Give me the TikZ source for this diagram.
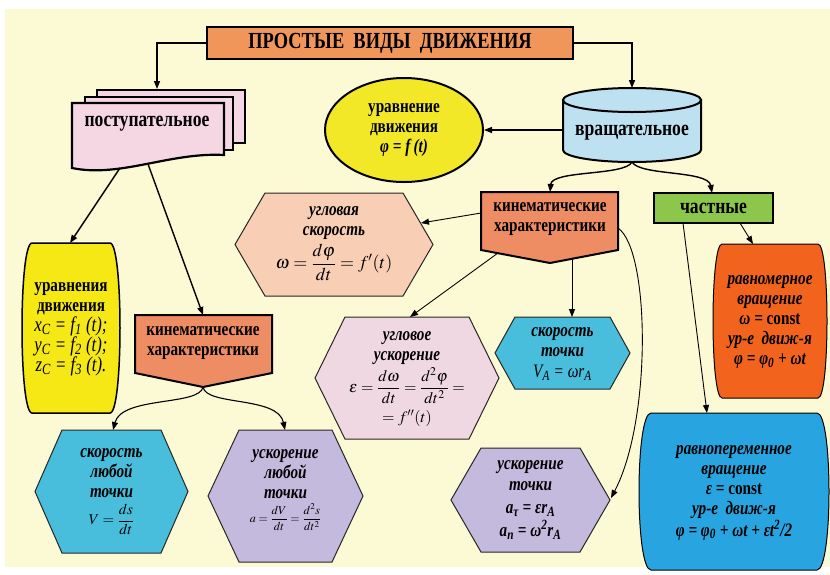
\documentclass[tikz,border=0pt]{standalone}
\usepackage{mathptmx}
\usepackage[no-math]{fontspec}
\setmainfont{Liberation Serif}[FakeStretch=0.8]
\usetikzlibrary{shapes.geometric,arrows.meta}
\definecolor{bgc}{RGB}{252,250,212}
\definecolor{titlec}{RGB}{240,150,90}
\definecolor{docc}{RGB}{245,215,228}
\definecolor{ellc}{RGB}{242,232,40}
\definecolor{cylc}{RGB}{190,225,242}
\definecolor{kinc}{RGB}{238,140,100}
\definecolor{greenc}{RGB}{140,198,75}
\definecolor{peachc}{RGB}{248,206,180}
\definecolor{pinkc}{RGB}{240,216,226}
\definecolor{cyanc}{RGB}{72,190,220}
\definecolor{lavc}{RGB}{196,186,222}
\definecolor{orc}{RGB}{242,100,30}
\definecolor{bluec}{RGB}{40,165,225}
\definecolor{yelc}{RGB}{245,232,20}
\newcommand\bfit{\bfseries\itshape}
\newcommand\hexa[6]{\path[#6] (#1,{(#2+#4)/2}) -- ({#1+#5},#2) -- ({#3-#5},#2) -- (#3,{(#2+#4)/2}) -- ({#3-#5},#4) -- ({#1+#5},#4) -- cycle;}
\newcommand\bulge[6]{\path[#6] ({#1+#5},#2) -- ({#3-#5},#2) .. controls ({#3+#5/3},#2) and ({#3+#5/3},#4) .. ({#3-#5},#4) -- ({#1+#5},#4) .. controls ({#1-#5/3},#4) and ({#1-#5/3},#2) .. ({#1+#5},#2) -- cycle;}
\tikzset{
  every node/.style={font=\fontsize{19}{20}\selectfont, align=center, inner sep=0pt},
  arr/.style={line width=1.4pt, -{Triangle[length=8pt,width=6pt]}},
  arrt/.style={line width=0.9pt, -{Triangle[length=8pt,width=6pt]}},
  thickbox/.style={draw, line width=2.2pt},
  hexline/.style={draw=black!85, line width=1pt},
  big/.style={font=\fontsize{22}{24}\selectfont\bfseries},
}
\begin{document}
\begin{tikzpicture}[x=1pt,y=-1pt]
\useasboundingbox (0,0) rectangle (830,574);
\fill[bgc] (5,9) rectangle (830,567);

% document stack
\draw[thickbox, fill=docc] (97,90) rectangle (245,143);
\draw[thickbox, fill=docc] (85,97) rectangle (233,150);
\draw[thickbox, fill=docc] (72,103) -- (224,103) -- (224,155) .. controls (170,152) and (120,178) .. (72,168) -- cycle;
\node[big] (doc) at (147,124) {поступательное};

% title
\node[thickbox, fill=titlec, minimum width=366pt, minimum height=32pt, font=\fontsize{23}{24}\selectfont\bfseries] (title) at (390,43) {ПРОСТЫЕ\ \ ВИДЫ\ \ ДВИЖЕНИЯ};

% ellipse
\node[ellipse, draw, line width=2pt, fill=ellc, minimum width=158pt, minimum height=104pt] (eq) at (404,130) {\bfseries уравнение\\ \bfseries движения\\ \bfit φ = f\,(t)};

% cylinder
\path[fill=cylc, draw, line width=2pt] (563,100) -- (563,150) arc[start angle=180,end angle=360,x radius=69pt,y radius=12pt] -- (701,100) -- cycle;
\draw[fill=cylc, line width=2pt] (632,100) ellipse[x radius=69pt, y radius=12pt];
\node[big] (rot) at (632,133) {вращательное};

% kinematic right
\draw[fill=kinc, line width=2pt] (481,192) -- (618,192) -- (618,250) -- (550,263) -- (481,250) -- cycle;
\node[font=\fontsize{19}{20}\selectfont\bfseries] (kinR) at (550,219) {кинематические\\характеристики};

% частные
\node[thickbox, fill=greenc, minimum width=119pt, minimum height=30pt, big] (chast) at (713.5,208) {частные};

% hexagons
\hexa{235}{193}{433}{296}{30}{hexline, fill=peachc}
\node (hexW) at (334,244) {\bfit угловая\\ \bfit скорость\\[3pt] \fontsize{18}{20}\selectfont $\displaystyle \omega=\frac{d\varphi}{dt}=f'(t)$};

\hexa{315}{317}{499}{439}{30}{hexline, fill=pinkc}
\node (hexE) at (407,379) {\bfit угловое\\ \bfit ускорение\\[2pt] \fontsize{16}{18}\selectfont $\displaystyle \varepsilon=\frac{d\omega}{dt}=\frac{d^2\varphi}{dt^2}=$\\[5pt] \fontsize{16}{18}\selectfont $=f''(t)$};

\hexa{495}{317}{630}{389}{20}{hexline, fill=cyanc}
\node (hexV) at (562.5,354) {\bfit скорость\\ \bfit точки\\[1pt] \itshape V\textsubscript{A} = ωr\textsubscript{A}};

\hexa{451}{448}{610}{552}{30}{hexline, fill=lavc}
\node[font=\fontsize{19}{21}\selectfont] (hexA) at (530.5,500) {\bfit ускорение\\ \bfit точки\\[2pt] \bfit a\textsubscript{τ} = εr\textsubscript{A}\\[2pt] \bfit a\textsubscript{n} = ω\textsuperscript{2}r\textsubscript{A}};

\hexa{35}{430}{188}{553}{27}{hexline, fill=cyanc}
\node (hexV2) at (111.5,492) {\bfit скорость\\ \bfit любой\\ \bfit точки\\[5pt] \fontsize{15}{18}\selectfont $\displaystyle V=\frac{ds}{dt}$};

\hexa{208}{430}{363}{562}{31}{hexline, fill=lavc}
\node (hexA2) at (285.5,490) {\bfit ускорение\\ \bfit любой\\ \bfit точки\\[4pt] \fontsize{12}{14}\selectfont $\displaystyle a=\frac{dV}{dt}=\frac{d^2s}{dt^2}$};

% bulges
\bulge{713}{244}{827}{398}{9}{draw, line width=1pt, fill=orc}
\node (rav1) at (770,322) {\bfit равномерное\\ \bfit вращение\\ \bfit ω = {\upshape const}\\ \bfit ур-е\ \ движ-я\\ \bfit φ = φ\textsubscript{0} + ωt};

\bulge{639}{413}{829}{570}{12}{draw, line width=1pt, fill=bluec}
\node (rav2) at (734,493) {\bfit равнопеременное\\ \bfit вращение\\ \bfit ε = {\upshape const}\\ \bfit ур-е\ \ движ-я\\ \bfit φ = φ\textsubscript{0} + ωt + εt\textsuperscript{2}/2};

\bulge{22}{243}{120}{413}{10}{draw, line width=1.5pt, fill=yelc}
\node (ur) at (71,329) {\bfseries уравнения\\ \bfseries движения\\ \fontsize{21}{22}\selectfont\itshape x\textsubscript{C} = f\textsubscript{1} (t);\\ \fontsize{21}{22}\selectfont\itshape y\textsubscript{C} = f\textsubscript{2} (t);\\ \fontsize{21}{22}\selectfont\itshape z\textsubscript{C} = f\textsubscript{3} (t).};

% kinematic left
\draw[fill=kinc, line width=2pt] (135,315) -- (272,315) -- (272,373) -- (203,387) -- (135,373) -- cycle;
\node[font=\fontsize{19}{20}\selectfont\bfseries] (kinL) at (203,343) {кинематические\\характеристики};

% connector endpoints
\coordinate (docTop) at (157,89);
\coordinate (cylTop) at (632,88);
\coordinate (cylW) at (563,130);
\coordinate (cylB) at (632,162);
\coordinate (kinRtop) at (550,192);
\coordinate (chTop) at (712,193);
\coordinate (kinRw) at (481,213);
\coordinate (hexWr) at (421,223);
\coordinate (kinRbl) at (498,253);
\coordinate (hexEtop) at (410,317);
\coordinate (kinRbr) at (572,259);
\coordinate (hexVtop) at (572,317);
\coordinate (kinRe) at (618,228);
\coordinate (hexAr) at (611,498);
\coordinate (chB1) at (740,223);
\coordinate (rav1Top) at (753,244);
\coordinate (chB2) at (683,223);
\coordinate (rav2Top) at (707,413);
\coordinate (docL) at (120,168);
\coordinate (urTop) at (70,243);
\coordinate (docR) at (148,164);
\coordinate (kinLtop) at (203,315);
\coordinate (kinLb) at (203,387);
\coordinate (hexV2top) at (113,430);
\coordinate (hexA2top) at (285,430);

% connectors
\draw[arr] (title.west) -| (docTop);
\draw[arr] (title.east) -| (cylTop);
\draw[arr] (cylW) -- (eq.east);
\draw[arr] (cylB) .. controls (625,176) and (552,170) .. (kinRtop);
\draw[arr] (cylB) .. controls (640,176) and (708,170) .. (chTop);
\draw[arrt] (kinRw) -- (hexWr);
\draw[arrt] (kinRbl) -- (hexEtop);
\draw[arrt] (kinRbr) -- (hexVtop);
\draw[arrt] (kinRe) .. controls (650,250) and (652,420) .. (hexAr);
\draw[arrt] (chB1) -- (rav1Top);
\draw[arrt] (chB2) -- (rav2Top);
\draw[arr] (docL) -- (urTop);
\draw[arr] (docR) -- (kinLtop);
\draw[arr, line width=1.1pt] (kinLb) .. controls (200,406) and (122,396) .. (hexV2top);
\draw[arr, line width=1.1pt] (kinLb) .. controls (206,406) and (278,396) .. (hexA2top);
\end{tikzpicture}
\end{document}
